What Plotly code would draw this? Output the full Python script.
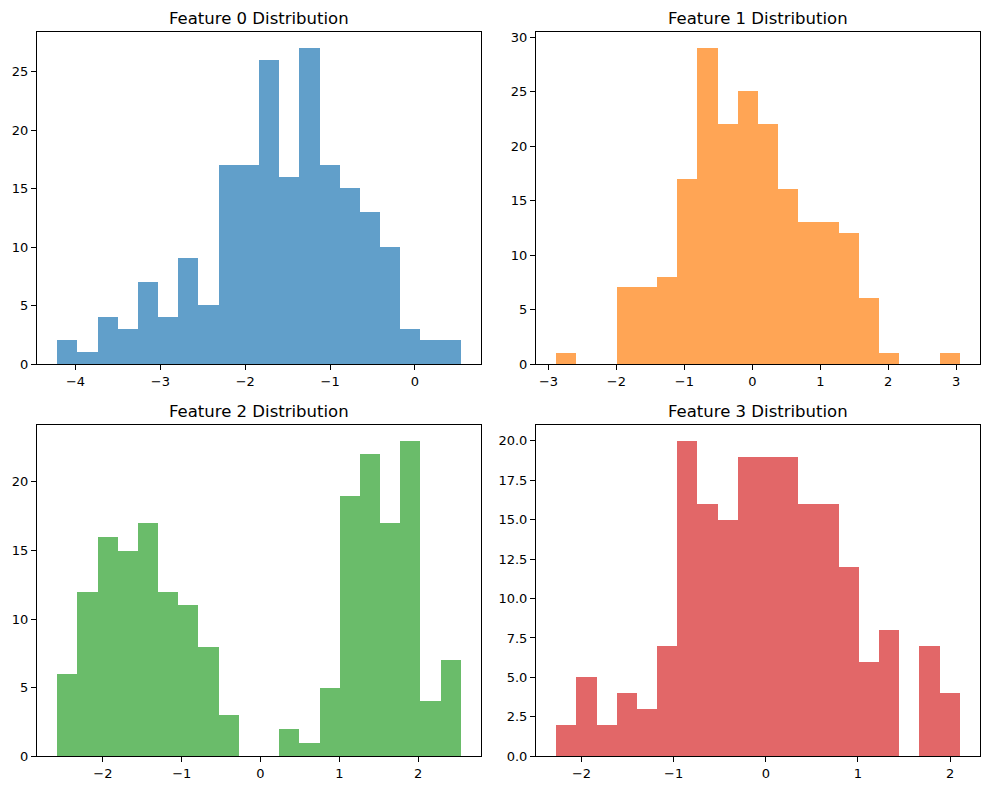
import numpy as np
import plotly.graph_objects as go

# ---- data ----
titles = ["Feature 0 Distribution", "Feature 1 Distribution",
          "Feature 2 Distribution", "Feature 3 Distribution"]
colors = ["#1f77b4", "#ff7f0e", "#2ca02c", "#d62728"]

counts_f0 = [2, 1, 4, 3, 7, 4, 9, 5, 17, 17, 26, 16, 27, 17, 15, 13, 10, 3, 2, 2]
counts_f1 = [1, 0, 0, 7, 7, 8, 17, 29, 22, 25, 22, 16, 13, 13, 12, 6, 1, 0, 0, 1]
counts_f2 = [6, 12, 16, 15, 17, 12, 11, 8, 3, 0, 0, 2, 1, 5, 19, 22, 17, 23, 4, 7]
counts_f3 = [2, 5, 2, 4, 3, 7, 20, 16, 15, 19, 19, 19, 16, 16, 12, 6, 8, 0, 7, 4]

# data min / max of each feature (outer bin edges)
edges_min = [-4.216, -2.887, -2.581, -2.275]
edges_max = [0.540, 3.054, 2.543, 2.105]

xticks_f0 = [-4, -3, -2, -1, 0]
xticks_f1 = [-3, -2, -1, 0, 1, 2, 3]
xticks_f2 = [-2, -1, 0, 1, 2]
xticks_f3 = [-2, -1, 0, 1, 2]
yticks_f0 = [0, 5, 10, 15, 20, 25]
yticks_f1 = [0, 5, 10, 15, 20, 25, 30]
yticks_f2 = [0, 5, 10, 15, 20]
yticks_f3 = [0, 2.5, 5, 7.5, 10, 12.5, 15, 17.5, 20]

all_counts = [counts_f0, counts_f1, counts_f2, counts_f3]
all_xt = [xticks_f0, xticks_f1, xticks_f2, xticks_f3]
all_yt = [yticks_f0, yticks_f1, yticks_f2, yticks_f3]

W, H = 990, 790          # browser window
OFF = 8                  # default page (body) margin
FW, FH = W - 2 * OFF, H - 2 * OFF
# plot-area pixel boxes in window coordinates (left, right, top, bottom)
boxes = [(37, 481, 32.3, 364), (536, 980, 32.3, 364),
         (37, 481, 425, 756.3), (536, 980, 425, 756.3)]

fig = go.Figure()
annotations = []
font_family = "DejaVu Sans"

for i in range(4):
    counts = all_counts[i]
    nb = len(counts)
    edges = np.linspace(edges_min[i], edges_max[i], nb + 1)
    centers = (edges[:-1] + edges[1:]) / 2
    bw = edges[1] - edges[0]
    ax = "" if i == 0 else str(i + 1)
    fig.add_trace(go.Bar(
        x=centers, y=counts, width=[bw] * nb,
        marker=dict(color=colors[i], line=dict(width=0)),
        opacity=0.7, xaxis="x" + ax, yaxis="y" + ax, showlegend=False,
        hoverinfo="x+y",
    ))
    l, r, t, b = [v - OFF for v in boxes[i]]
    span = edges_max[i] - edges_min[i]
    xr = [edges_min[i] - 0.05 * span, edges_max[i] + 0.05 * span]
    yr = [0, max(counts) * 1.05]
    common = dict(showline=True, linecolor="black", linewidth=1, mirror=True,
                  ticks="outside", ticklen=5, tickwidth=1, tickcolor="black",
                  showgrid=False, zeroline=False, automargin=False,
                  tickfont=dict(family=font_family, size=13, color="black"))
    fig.layout["xaxis" + ax] = dict(
        domain=[l / FW, r / FW], range=xr, anchor="y" + ax,
        tickmode="array", tickvals=all_xt[i], **common)
    yfmt = ".1f" if i == 3 else "d"
    fig.layout["yaxis" + ax] = dict(
        domain=[1 - b / FH, 1 - t / FH], range=yr, anchor="x" + ax,
        tickmode="array", tickvals=all_yt[i], tickformat=yfmt, **common)
    annotations.append(dict(
        text=titles[i], x=(l + r) / 2 / FW, y=1 - t / FH, xref="paper", yref="paper",
        xanchor="center", yanchor="bottom", yshift=2, showarrow=False,
        font=dict(family=font_family, size=16.5, color="black")))

fig.update_layout(
    width=FW, height=FH, margin=dict(l=0, r=0, t=0, b=0),
    paper_bgcolor="white", plot_bgcolor="white",
    annotations=annotations, bargap=0,
)

fig.write_html("out.html")
